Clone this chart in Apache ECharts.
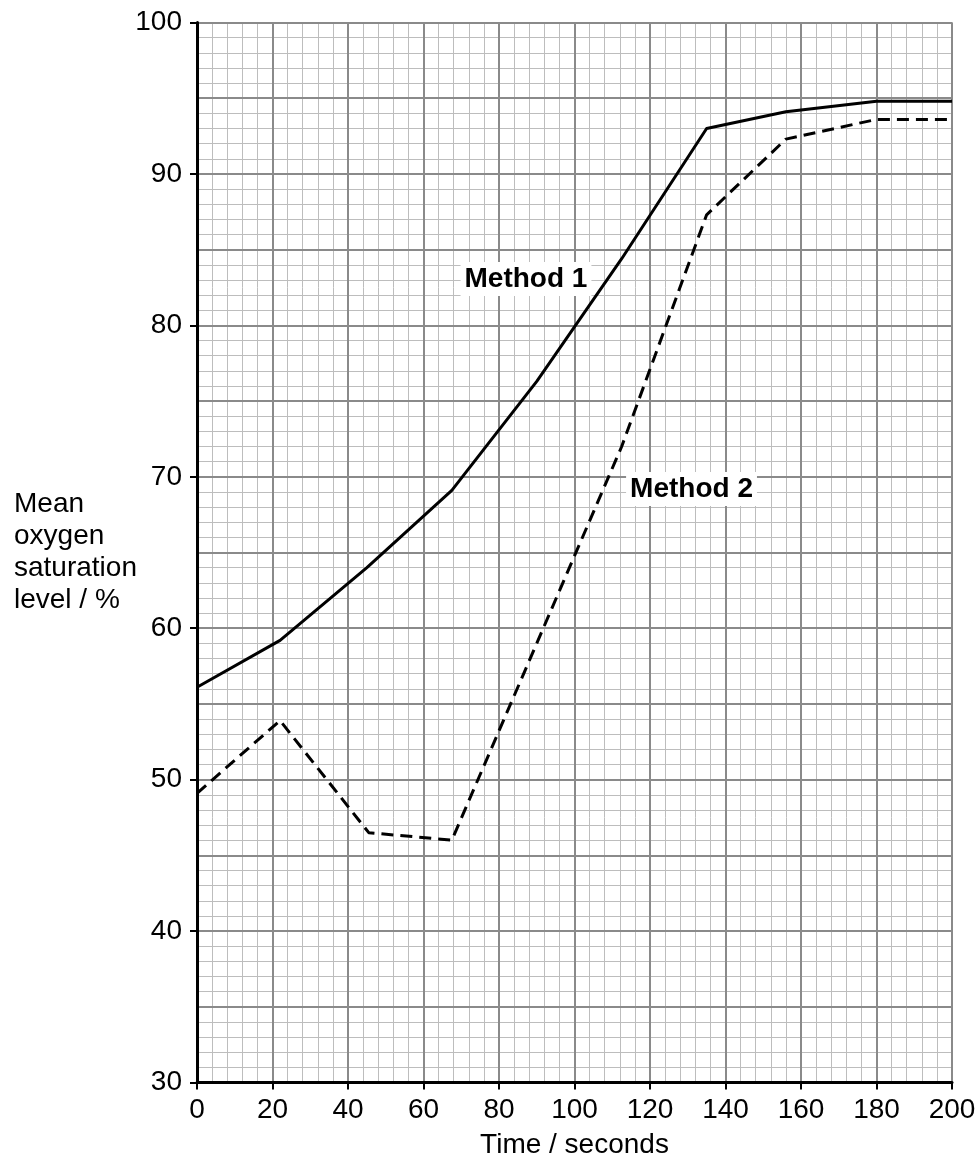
<!DOCTYPE html>
<html>
<head>
<meta charset="utf-8">
<script src="https://cdn.jsdelivr.net/npm/echarts@6/dist/echarts.min.js"></script>
<style>
html,body{margin:0;padding:0;background:#fff;}
#chart{width:980px;height:1167px;}
</style>
</head>
<body>
<div id="chart"></div>
<script>
// ---- data ----
const timeTicks = [0, 20, 40, 60, 80, 100, 120, 140, 160, 180, 200];
const yTicks = [30, 40, 50, 60, 70, 80, 90, 100];
const method1Times = [0, 22, 45, 67.5, 90, 112.5, 135, 156, 180, 200];
const method1Values = [56.1, 59.2, 64.0, 69.1, 76.3, 84.4, 93.0, 94.1, 94.8, 94.8];
const method2Times = [0, 22, 45.5, 67.5, 90, 112.5, 135, 156, 180, 200];
const method2Values = [49.1, 53.9, 46.5, 46.0, 59.0, 72.0, 87.3, 92.3, 93.6, 93.6];
const seriesNames = ['Method 1', 'Method 2'];

const FONT = "'Liberation Sans', Arial, sans-serif";
const chart = echarts.init(document.getElementById('chart'), null, {renderer: 'canvas'});

const xMin = timeTicks[0], xMax = timeTicks[timeTicks.length - 1];
const yMin = yTicks[0], yMax = yTicks[yTicks.length - 1];

function hiddenAxis(extra) {
  return Object.assign({
    type: 'value', axisLine: {show: false}, axisTick: {show: false},
    axisLabel: {show: false}
  }, extra);
}

const option = {
  animation: false,
  backgroundColor: '#ffffff',
  grid: {left: 197, right: 28, top: 22.5, bottom: 84.5, containLabel: false},
  xAxis: [
    { // labelled axis
      type: 'value', min: xMin, max: xMax, interval: 20, z: 3,
      axisLine: {show: true, onZero: false, lineStyle: {color: '#000', width: 3}},
      axisTick: {show: true, length: 7, lineStyle: {color: '#000', width: 2}},
      axisLabel: {show: true, margin: 14, color: '#000', fontSize: 28, fontFamily: FONT},
      splitLine: {show: false},
      name: 'Time / seconds', nameLocation: 'middle', nameGap: 49,
      nameTextStyle: {color: '#000', fontSize: 28, fontFamily: FONT}
    },
    hiddenAxis({min: xMin, max: xMax, interval: 4, z: 0,
      splitLine: {show: true, lineStyle: {color: '#bdbdbd', width: 1}}}),
    hiddenAxis({min: xMin, max: xMax, interval: 20, z: 1,
      splitLine: {show: true, lineStyle: {color: '#8a8a8a', width: 2}}})
  ],
  yAxis: [
    {
      type: 'value', min: yMin, max: yMax, interval: 10, z: 4,
      axisLine: {show: true, onZero: false, lineStyle: {color: '#000', width: 3}},
      axisTick: {show: true, length: 7, lineStyle: {color: '#000', width: 2}},
      axisLabel: {show: true, margin: 15, color: '#000', fontSize: 28, fontFamily: FONT},
      splitLine: {show: false}
    },
    hiddenAxis({min: yMin, max: yMax, interval: 1, z: 0, position: 'left',
      splitLine: {show: true, lineStyle: {color: '#bdbdbd', width: 1}}}),
    hiddenAxis({min: yMin, max: yMax, interval: 5, z: 1, position: 'left',
      splitLine: {show: true, lineStyle: {color: '#8a8a8a', width: 2}}})
  ],
  graphic: [{
    type: 'text', left: 14, top: 488, z: 10,
    style: {
      text: 'Mean\noxygen\nsaturation\nlevel / %',
      fill: '#000', font: '28px ' + FONT, lineHeight: 32, textAlign: 'left'
    }
  }],
  series: [
    {
      name: seriesNames[0], type: 'line', xAxisIndex: 0, yAxisIndex: 0, z: 5,
      data: method1Times.map((t, i) => [t, method1Values[i]]),
      symbol: 'none', smooth: false,
      lineStyle: {color: '#000', width: 3, type: 'solid', join: 'round'},
      markPoint: {
        symbol: 'circle', symbolSize: 0, silent: true,
        data: [{coord: [87.15, 83.06], value: seriesNames[0]}],
        label: {show: true, position: 'inside', formatter: seriesNames[0],
          color: '#000', fontSize: 28, fontWeight: 'bold', fontFamily: FONT,
          backgroundColor: '#fff', padding: [3, 4, 3, 4]}
      }
    },
    {
      name: seriesNames[1], type: 'line', xAxisIndex: 0, yAxisIndex: 0, z: 5,
      data: method2Times.map((t, i) => [t, method2Values[i]]),
      symbol: 'none', smooth: false,
      lineStyle: {color: '#000', width: 3, type: [12, 7], join: 'round'},
      markPoint: {
        symbol: 'circle', symbolSize: 0, silent: true,
        data: [{coord: [131.0, 69.19], value: seriesNames[1]}],
        label: {show: true, position: 'inside', formatter: seriesNames[1],
          color: '#000', fontSize: 28, fontWeight: 'bold', fontFamily: FONT,
          backgroundColor: '#fff', padding: [3, 4, 3, 4]}
      }
    }
  ]
};
chart.setOption(option);
</script>
</body>
</html>
